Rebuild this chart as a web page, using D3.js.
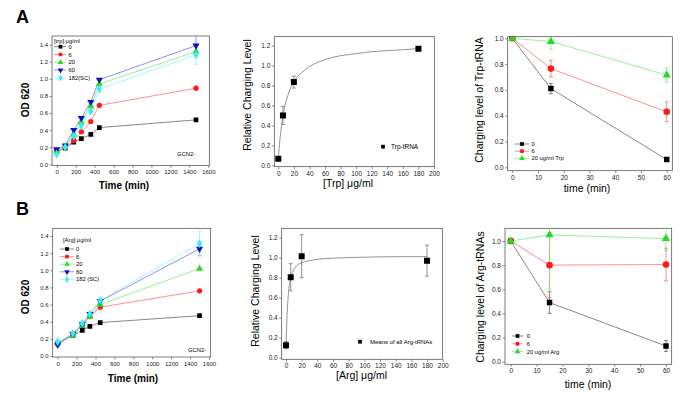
<!DOCTYPE html>
<html><head><meta charset="utf-8">
<script src="https://cdn.jsdelivr.net/npm/d3@7"></script>
<style>
body{margin:0;background:#fff}
svg{display:block;font-family:Arial,"Liberation Sans",sans-serif}
</style></head>
<body><svg id="c" width="685" height="405"></svg>
<script>
// ---------- DATA ----------
const concLabelsTrp = ["0", "6", "20", "60", "182(SC)"];
const concLabelsArg = ["0", "6", "20", "60", "182 (SC)"];
const trpGrowthTime = [0, 90, 180, 260, 360, 450, 1470];
const trpGrowth0   = [0.15, 0.19, 0.26, 0.30, 0.35, 0.43, 0.52];
const trpGrowth6   = [0.15, 0.20, 0.28, 0.38, 0.50, 0.69, 0.89];
const trpGrowth20  = [0.15, 0.21, 0.35, 0.49, 0.68, 0.94, 1.32];
const trpGrowth60  = [0.175, 0.22, 0.40, 0.54, 0.73, 0.99, 1.39];
const trpGrowth182 = [0.12, 0.20, 0.33, 0.45, 0.62, 0.88, 1.28];
const trpGrowth60Err  = [0, 0, 0, 0, 0, 0, 0.12];
const trpGrowth182Err = [0, 0, 0, 0, 0, 0, 0.11];

const argGrowthTime = [0, 160, 260, 340, 450, 1500];
const argGrowth0   = [0.15, 0.24, 0.30, 0.345, 0.39, 0.47];
const argGrowth6   = [0.15, 0.245, 0.36, 0.46, 0.57, 0.76];
const argGrowth20  = [0.15, 0.24, 0.35, 0.46, 0.60, 1.02];
const argGrowth60  = [0.13, 0.26, 0.37, 0.49, 0.64, 1.25];
const argGrowth182 = [0.165, 0.265, 0.38, 0.49, 0.65, 1.31];
const argGrowth60Err  = [0, 0, 0, 0, 0, 0.08];
const argGrowth182Err = [0, 0, 0, 0, 0, 0.14];

const trpConc = [0, 6, 20, 180];
const trpCharge = [0.065, 0.50, 0.835, 1.17];
const trpChargeErr = [0.02, 0.09, 0.06, 0.02];
const trpFitX = [0, 1, 2, 3, 4, 6, 8, 10, 15, 20, 30, 40, 60, 80, 100, 120, 140, 160, 180];
const trpFitY = [0.05, 0.16, 0.25, 0.32, 0.39, 0.49, 0.58, 0.64, 0.76, 0.84, 0.93, 0.99, 1.06, 1.10, 1.12, 1.14, 1.15, 1.16, 1.17];

const argConc = [0, 6, 20, 180];
const argCharge = [0.125, 0.805, 1.015, 0.97];
const argChargeErr = [0.035, 0.135, 0.215, 0.155];
const argFitX = [0, 1, 2, 3, 4, 6, 8, 10, 15, 20, 30, 40, 60, 100, 140, 180];
const argFitY = [0.10, 0.35, 0.52, 0.63, 0.71, 0.80, 0.85, 0.88, 0.93, 0.95, 0.97, 0.985, 0.995, 1.005, 1.01, 1.01];

const chaseTime = [0, 15, 60];
const chaseLabelsTrp = ["0", "6", "20 ug/ml Trp"];
const chaseLabelsArg = ["0", "6", "20 ug/ml Arg"];
const trpChase0  = [1.0, 0.61, 0.06];
const trpChase6  = [1.0, 0.765, 0.43];
const trpChase20 = [1.0, 0.975, 0.715];
const trpChase0Err  = [0, 0.04, 0.01];
const trpChase6Err  = [0, 0.065, 0.077];
const trpChase20Err = [0, 0.06, 0.055];
const argChase0  = [1.0, 0.49, 0.13];
const argChase6  = [1.0, 0.80, 0.805];
const argChase20 = [1.0, 1.05, 1.02];
const argChase0Err  = [0, 0.09, 0.045];
const argChase6Err  = [0, 0.27, 0.135];
const argChase20Err = [0, 0.47, 0.10];

const growthTicksX = [0, 200, 400, 600, 800, 1000, 1200, 1400, 1600];
const growthTicksY = [0, 0.2, 0.4, 0.6, 0.8, 1.0, 1.2, 1.4];
const concTicksX = [0, 20, 40, 60, 80, 100, 120, 140, 160, 180, 200];
const chargeTicksY = [0, 0.2, 0.4, 0.6, 0.8, 1.0, 1.2];
const chaseTicksX = [0, 10, 20, 30, 40, 50, 60];
const chaseTicksY = [0, 0.2, 0.4, 0.6, 0.8, 1.0];

// ---------- STYLE ----------
const COL = {black:"#000000", red:"#ff1a1a", green:"#22dd22", blue:"#1010c0", cyan:"#33eeff"};
const LINECOL = {black:"#555555", red:"#ff6060", green:"#66ee66", blue:"#6060e0", cyan:"#80f4ff"};
const SYM = {black:d3.symbolSquare, red:d3.symbolCircle, green:d3.symbolTriangle, blue:"down", cyan:d3.symbolDiamond};

const svg = d3.select("#c");
let clipId = 0;

function marker(g, key, x, y, size) {
  const s = SYM[key];
  let path;
  if (s === "down") {
    path = d3.symbol(d3.symbolTriangle, size)();
    g.append("path").attr("d", path).attr("transform", `translate(${x},${y}) rotate(180)`).attr("fill", COL[key]);
  } else {
    path = d3.symbol(s, size)();
    g.append("path").attr("d", path).attr("transform", `translate(${x},${y})`).attr("fill", COL[key]);
  }
}

function panel(cfg) {
  const g = svg.append("g");
  const x = d3.scaleLinear().domain(cfg.xd).range(cfg.xr);
  const y = d3.scaleLinear().domain(cfg.yd).range(cfg.yr);
  const [L, R, T, B] = cfg.frame;
  const id = "clip" + (clipId++);
  g.append("clipPath").attr("id", id).append("rect").attr("x", L).attr("y", T).attr("width", R - L).attr("height", B - T);
  // axes
  const ax = g.append("g").attr("transform", `translate(0,${B})`)
    .call(d3.axisBottom(x).tickValues(cfg.xt).tickFormat(cfg.xf || d3.format("d")).tickSize(2.5).tickPadding(2));
  const ay = g.append("g").attr("transform", `translate(${L},0)`)
    .call(d3.axisLeft(y).tickValues(cfg.yt).tickFormat(d3.format(".1f")).tickSize(2.5).tickPadding(1.5));
  [ax, ay].forEach(a => {
    a.select(".domain").remove();
    a.selectAll("line").attr("stroke", "#444").attr("stroke-width", 0.6);
    a.selectAll("text").attr("font-size", cfg.tickFs).attr("fill", "#222");
  });
  g.append("rect").attr("x", L).attr("y", T).attr("width", R - L).attr("height", B - T)
    .attr("fill", "none").attr("stroke", "#444").attr("stroke-width", 0.7);
  const plot = g.append("g").attr("clip-path", `url(#${id})`);
  // fit curves
  (cfg.fits || []).forEach(f => {
    plot.append("path").datum(f.xs.map((v, i) => [v, f.ys[i]]))
      .attr("d", d3.line().x(d => x(d[0])).y(d => y(d[1])).curve(d3.curveMonotoneX))
      .attr("fill", "none").attr("stroke", "#777").attr("stroke-width", 0.8);
  });
  // series
  cfg.series.forEach(s => {
    const pts = s.xs.map((v, i) => ({x: v, y: s.ys[i], e: s.err ? s.err[i] : 0}));
    if (s.line !== false) {
      plot.append("path").datum(pts)
        .attr("d", d3.line().x(d => x(d.x)).y(d => y(d.y)))
        .attr("fill", "none").attr("stroke", LINECOL[s.key]).attr("stroke-width", 0.7);
    }
    pts.filter(p => p.e > 0).forEach(p => {
      const eg = plot.append("g").attr("stroke", s.errCol || LINECOL[s.key]).attr("stroke-width", 0.7);
      eg.append("line").attr("x1", x(p.x)).attr("x2", x(p.x)).attr("y1", y(p.y - p.e)).attr("y2", y(p.y + p.e));
      [p.y - p.e, p.y + p.e].forEach(v => eg.append("line").attr("x1", x(p.x) - 2).attr("x2", x(p.x) + 2).attr("y1", y(v)).attr("y2", y(v)));
    });
  });
  cfg.series.forEach(s => {
    s.xs.forEach((v, i) => marker(plot, s.key, x(v), y(s.ys[i]), s.size));
  });
  // legend
  if (cfg.legend) {
    const lg = cfg.legend;
    if (lg.title) g.append("text").attr("x", lg.titleX).attr("y", lg.titleY).attr("font-size", lg.fs)
      .attr("dominant-baseline", "central").text(lg.title);
    cfg.series.forEach((s, i) => {
      const yy = lg.y0 + i * lg.dy;
      if (lg.line) g.append("line").attr("x1", lg.x0).attr("x2", lg.x1).attr("y1", yy).attr("y2", yy)
        .attr("stroke", LINECOL[s.key]).attr("stroke-width", 0.7);
      marker(g, s.key, lg.mx, yy, lg.msize);
      g.append("text").attr("x", lg.tx).attr("y", yy).attr("font-size", lg.fs)
        .attr("dominant-baseline", "central").text(lg.labels[i]);
    });
  }
  // titles
  g.append("text").attr("x", cfg.xlab.x).attr("y", cfg.xlab.y).attr("text-anchor", "middle")
    .attr("dominant-baseline", "central").attr("font-size", cfg.labFs).attr("font-weight", cfg.labW)
    .text(cfg.xlab.t);
  g.append("text").attr("transform", `translate(${cfg.ylab.x},${cfg.ylab.y}) rotate(-90)`).attr("text-anchor", "middle")
    .attr("dominant-baseline", "central").attr("font-size", cfg.labFs).attr("font-weight", cfg.labW)
    .text(cfg.ylab.t);
  return g;
}

function growthSeries(xs, arrs, errs) {
  const keys = ["black", "red", "green", "blue", "cyan"];
  return keys.map((k, i) => ({key: k, xs: xs, ys: arrs[i], err: errs[i], size: 22}));
}

// A1
panel({
  xd: [0, 1600], xr: [56.7, 208.3], yd: [0, 1.4], yr: [164.3, 44.7],
  frame: [52, 209.3, 36, 165.5], xt: growthTicksX, yt: growthTicksY, tickFs: 6,
  series: growthSeries(trpGrowthTime, [trpGrowth0, trpGrowth6, trpGrowth20, trpGrowth60, trpGrowth182],
    [null, null, null, trpGrowth60Err, trpGrowth182Err]),
  legend: {title: "[trp] \u03bcg/ml", titleX: 54, titleY: 40.5, y0: 46.7, dy: 7.8, x0: 54, x1: 66, mx: 60.5,
    tx: 68.5, fs: 5.8, msize: 14, line: true, labels: concLabelsTrp},
  xlab: {t: "Time (min)", x: 124, y: 185}, ylab: {t: "OD 620", x: 25, y: 100}, labFs: 10, labW: "bold"
});
svg.append("text").attr("x", 177).attr("y", 154).attr("font-size", 5.8).attr("dominant-baseline", "central").text("GCN2-");

// B1
panel({
  xd: [0, 1600], xr: [57.7, 209], yd: [0, 1.4], yr: [356, 236],
  frame: [52.7, 210.7, 228.3, 357], xt: growthTicksX, yt: growthTicksY, tickFs: 6,
  series: growthSeries(argGrowthTime, [argGrowth0, argGrowth6, argGrowth20, argGrowth60, argGrowth182],
    [null, null, null, argGrowth60Err, argGrowth182Err]),
  legend: {title: "[Arg] \u03bcg/ml", titleX: 63, titleY: 239.5, y0: 249, dy: 7.6, x0: 60, x1: 74, mx: 67,
    tx: 76, fs: 5.8, msize: 14, line: true, labels: concLabelsArg},
  xlab: {t: "Time (min)", x: 133, y: 378}, ylab: {t: "OD 620", x: 25, y: 297}, labFs: 10, labW: "bold"
});
svg.append("text").attr("x", 188).attr("y", 350).attr("font-size", 5.8).attr("dominant-baseline", "central").text("GCN2-");

// A2
panel({
  xd: [0, 200], xr: [278.3, 434], yd: [0, 1.2], yr: [165.3, 45.7],
  frame: [274.3, 434.3, 36.7, 166.7], xt: concTicksX, yt: chargeTicksY, tickFs: 6.5,
  fits: [{xs: trpFitX, ys: trpFitY}],
  series: [{key: "black", xs: trpConc, ys: trpCharge, err: trpChargeErr, size: 36, line: false, errCol: "#666"}],
  legend: {y0: 146.7, dy: 0, mx: 383, tx: 391, fs: 6.5, msize: 14, line: false, labels: ["Trp-tRNA"]},
  xlab: {t: "[Trp] \u03bcg/ml", x: 348, y: 182.5}, ylab: {t: "Relative Charging Level", x: 246.5, y: 95}, labFs: 10.5, labW: "normal"
});

// B2
panel({
  xd: [0, 200], xr: [286, 442.7], yd: [0, 1.2], yr: [357.7, 237.7],
  frame: [281.7, 442.3, 228.3, 359.3], xt: concTicksX, yt: chargeTicksY, tickFs: 6.5,
  fits: [{xs: argFitX, ys: argFitY}],
  series: [{key: "black", xs: argConc, ys: argCharge, err: argChargeErr, size: 36, line: false, errCol: "#666"}],
  legend: {y0: 341.7, dy: 0, mx: 360, tx: 370, fs: 6, msize: 14, line: false, labels: ["Means of all Arg-tRNAs"]},
  xlab: {t: "[Arg] \u03bcg/ml", x: 361.5, y: 375}, ylab: {t: "Relative Charging Level", x: 255, y: 291}, labFs: 10.5, labW: "normal"
});

// A3
panel({
  xd: [0, 60], xr: [512.3, 666.7], yd: [0, 1.0], yr: [167.3, 38.3],
  frame: [507.7, 672.3, 36.7, 170.7], xt: chaseTicksX, yt: chaseTicksY, tickFs: 6.5,
  series: [
    {key: "black", xs: chaseTime, ys: trpChase0, err: trpChase0Err, size: 30},
    {key: "red", xs: chaseTime, ys: trpChase6, err: trpChase6Err, size: 34},
    {key: "green", xs: chaseTime, ys: trpChase20, err: trpChase20Err, size: 30}],
  legend: {y0: 144, dy: 7.2, x0: 515, x1: 529, mx: 522, tx: 531.5, fs: 5.8, msize: 14, line: true, labels: chaseLabelsTrp},
  xlab: {t: "time (min)", x: 587, y: 188.3}, ylab: {t: "Charging level of Trp-tRNA", x: 479, y: 100}, labFs: 10.5, labW: "normal"
});

// B3
panel({
  xd: [0, 60], xr: [510.7, 666], yd: [0, 1.0], yr: [361.7, 241],
  frame: [505, 671.7, 228.3, 364.3], xt: chaseTicksX, yt: chaseTicksY, tickFs: 6.5,
  series: [
    {key: "black", xs: chaseTime, ys: argChase0, err: argChase0Err, size: 30},
    {key: "red", xs: chaseTime, ys: argChase6, err: argChase6Err, size: 34},
    {key: "green", xs: chaseTime, ys: argChase20, err: argChase20Err, size: 30}],
  legend: {y0: 336, dy: 7.8, x0: 511.7, x1: 523.3, mx: 517.5, tx: 526.7, fs: 5.8, msize: 14, line: true, labels: chaseLabelsArg},
  xlab: {t: "time (min)", x: 588, y: 384}, ylab: {t: "Charging level of Arg-tRNAs", x: 480, y: 297}, labFs: 10.5, labW: "normal"
});

// panel letters
svg.append("text").attr("x", 16).attr("y", 23).attr("font-size", 18).attr("font-weight", "bold").text("A");
svg.append("text").attr("x", 16).attr("y", 215).attr("font-size", 18).attr("font-weight", "bold").text("B");
</script></body></html>
